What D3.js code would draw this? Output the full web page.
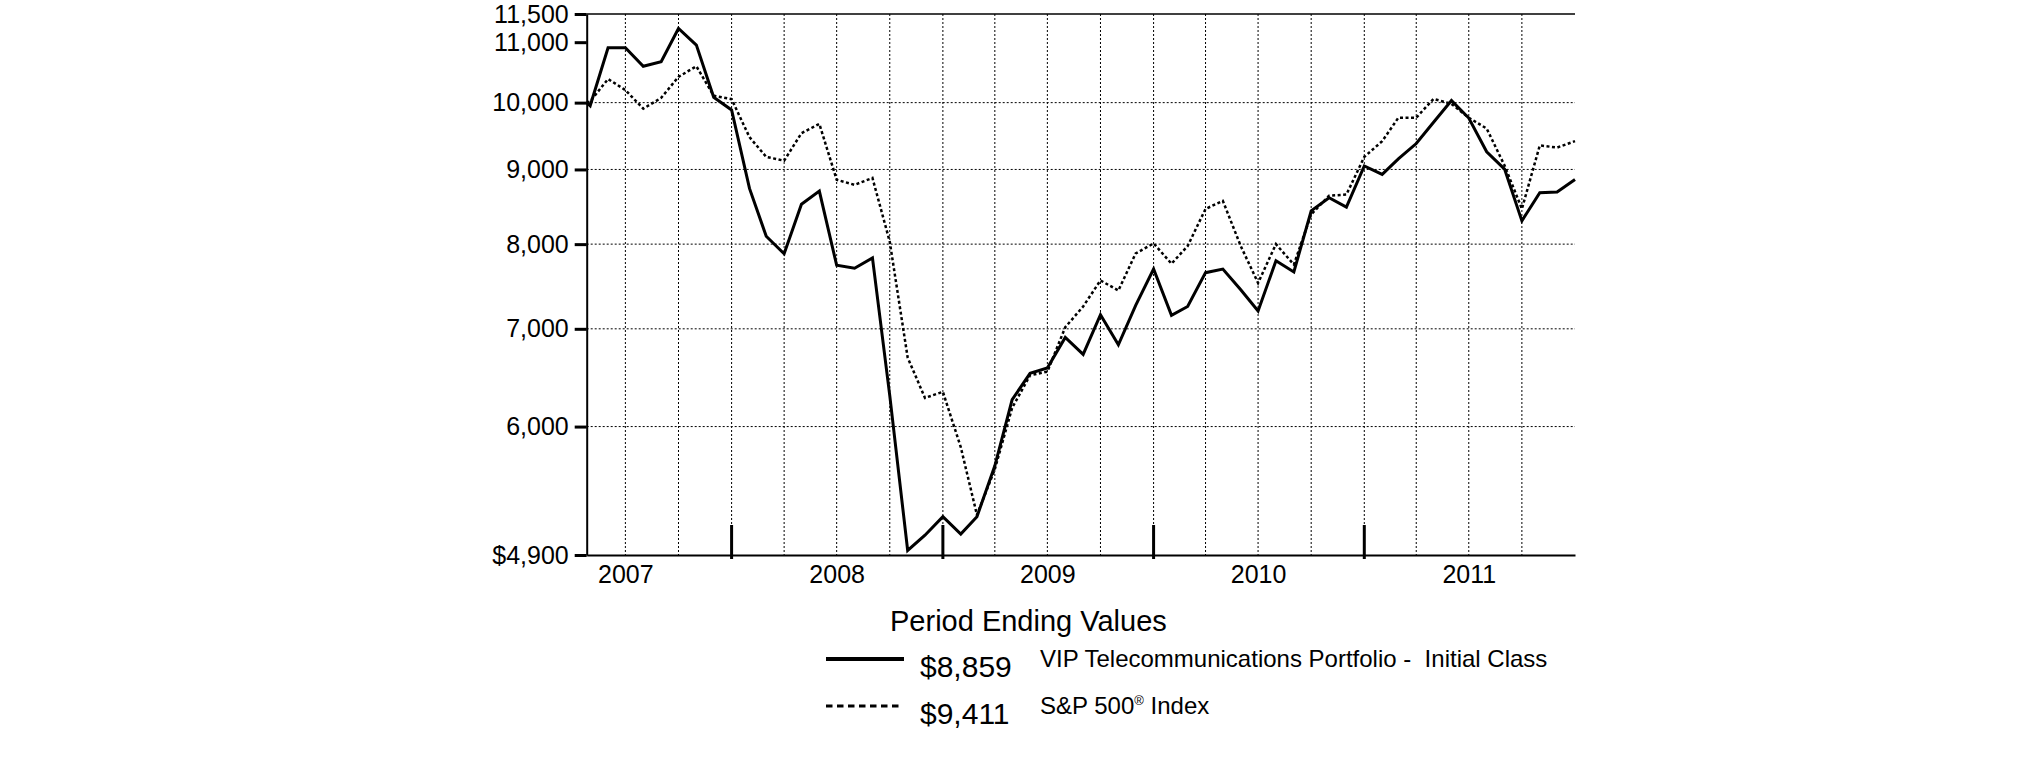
<!DOCTYPE html>
<html>
<head>
<meta charset="utf-8">
<script src="https://cdn.jsdelivr.net/npm/d3@7"></script>
<style>
  body { margin: 0; background: #fff; }
  text { font-family: "Liberation Sans", Arial, Helvetica, sans-serif; fill: #000; }
</style>
</head>
<body>
<svg id="chart" width="2025" height="761"></svg>
<script>
// ---------------- DATA ----------------
const dates = [
  "2007-04-24",
  "2007-04-30","2007-05-31","2007-06-30","2007-07-31","2007-08-31","2007-09-30","2007-10-31","2007-11-30","2007-12-31",
  "2008-01-31","2008-02-29","2008-03-31","2008-04-30","2008-05-31","2008-06-30","2008-07-31","2008-08-31","2008-09-30","2008-10-31","2008-11-30","2008-12-31",
  "2009-01-31","2009-02-28","2009-03-31","2009-04-30","2009-05-31","2009-06-30","2009-07-31","2009-08-31","2009-09-30","2009-10-31","2009-11-30","2009-12-31",
  "2010-01-31","2010-02-28","2010-03-31","2010-04-30","2010-05-31","2010-06-30","2010-07-31","2010-08-31","2010-09-30","2010-10-31","2010-11-30","2010-12-31",
  "2011-01-31","2011-02-28","2011-03-31","2011-04-30","2011-05-31","2011-06-30","2011-07-31","2011-08-31","2011-09-30","2011-10-31","2011-11-30","2011-12-31"
];
const telecom = [
  10000,
  9950, 10905, 10905, 10590, 10665, 11240, 10950, 10085, 9886,
  8735, 8100, 7880, 8520, 8697, 7738, 7701, 7828, 6300, 4935, 5055, 5205,
  5065, 5205, 5640, 6260, 6525, 6580, 6905, 6723, 7158, 6826, 7264, 7692,
  7150, 7251, 7648, 7692, 7445, 7200, 7793, 7657, 8432, 8607, 8481, 9050,
  8930, 9150, 9375, 9695, 10032, 9760, 9255, 9005, 8299, 8675, 8685, 8859
];
const sp500 = [
  10000,
  10020, 10380, 10200, 9905, 10075, 10415, 10590, 10110, 10055,
  9470, 9180, 9125, 9530, 9670, 8855, 8784, 8880, 8030, 6690, 6277, 6338,
  5808, 5220, 5610, 6180, 6505, 6543, 7017, 7251, 7555, 7436, 7883, 8009,
  7757, 7976, 8457, 8565, 7976, 7524, 8000, 7746, 8384, 8635, 8650, 9180,
  9410, 9765, 9765, 10060, 9980, 9765, 9600, 9055, 8457, 9347, 9316, 9411
];
const yTicks = [4900, 6000, 7000, 8000, 9000, 10000, 11000, 11500];
const yGridValues = [6000, 7000, 8000, 9000, 10000];
const yearLabels = ["2007", "2008", "2009", "2010", "2011"];
const yearEndTicks = ["2007-12-31", "2008-12-31", "2009-12-31", "2010-12-31"];
const legendTitle = "Period Ending Values";
const seriesNames = ["VIP Telecommunications Portfolio -  Initial Class", "S&P 500® Index"];
const endValues = ["$8,859", "$9,411"];

// ---------------- LAYOUT ----------------
const parse = d3.timeParse("%Y-%m-%d");
const L = 586.7, R = 1575, T = 14, B = 555;
const svg = d3.select("#chart");
svg.append("rect").attr("width", 2025).attr("height", 761).attr("fill", "#fff");

const dt = dates.map(parse);
const x = d3.scaleTime().domain([dt[0], dt[dt.length - 1]]).range([L, R]);
const y = d3.scaleLog().domain([4900, 11500]).range([B, T]);

// horizontal dotted grid
svg.append("g").selectAll("line").data(yGridValues).join("line")
  .attr("x1", L).attr("x2", R)
  .attr("y1", d => y(d)).attr("y2", d => y(d))
  .attr("stroke", "#000").attr("stroke-width", 1).attr("stroke-dasharray", "2,2");

// vertical dotted grid (quarter ends)
const quarterDates = dt.filter((d, i) => i > 0 && d.getMonth() % 3 === 2 && i < dt.length - 1);
svg.append("g").selectAll("line").data(quarterDates).join("line")
  .attr("x1", d => x(d)).attr("x2", d => x(d))
  .attr("y1", T).attr("y2", B)
  .attr("stroke", "#000").attr("stroke-width", 1).attr("stroke-dasharray", "2,2");

// top frame line
svg.append("line").attr("x1", L).attr("x2", R).attr("y1", y(11500)).attr("y2", y(11500))
  .attr("stroke", "#000").attr("stroke-width", 1.5);

// y axis
const fmt = d3.format(",");
const yAxis = d3.axisLeft(y).tickValues(yTicks)
  .tickFormat(d => (d === 4900 ? "$" : "") + fmt(d))
  .tickSize(12).tickSizeOuter(0).tickPadding(6);
const gy = svg.append("g").attr("transform", `translate(${L},0)`).call(yAxis);
gy.select(".domain").attr("stroke", "#000").attr("stroke-width", 2);
gy.selectAll(".tick line").attr("stroke", "#000").attr("stroke-width", 3);
gy.selectAll(".tick text").attr("font-size", 25).attr("fill", "#000")
  .style("font-family", '"Liberation Sans", Arial, sans-serif');

// x axis (year labels centred mid-year)
const xAxis = d3.axisBottom(x)
  .tickValues(yearLabels.map(yr => parse(yr + "-06-30")))
  .tickFormat(d3.timeFormat("%Y"))
  .tickSize(0).tickSizeOuter(0).tickPadding(10);
const gx = svg.append("g").attr("transform", `translate(0,${B})`).call(xAxis);
gx.select(".domain").attr("stroke", "#000").attr("stroke-width", 2);
gx.selectAll(".tick text").attr("font-size", 25).attr("fill", "#000")
  .style("font-family", '"Liberation Sans", Arial, sans-serif');

// tall year-end ticks
svg.append("g").selectAll("line").data(yearEndTicks.map(parse)).join("line")
  .attr("x1", d => x(d)).attr("x2", d => x(d))
  .attr("y1", B - 30).attr("y2", B + 4)
  .attr("stroke", "#000").attr("stroke-width", 3);

// series lines
const line = d3.line().x(d => x(d.date)).y(d => y(d.v));
const spData = dt.map((d, i) => ({ date: d, v: sp500[i] }));
const tcData = dt.map((d, i) => ({ date: d, v: telecom[i] }));
svg.append("path").datum(spData).attr("d", line)
  .attr("fill", "none").attr("stroke", "#000").attr("stroke-width", 2.5)
  .attr("stroke-dasharray", "3,2.5");
svg.append("path").datum(tcData).attr("d", line)
  .attr("fill", "none").attr("stroke", "#000").attr("stroke-width", 3)
  .attr("stroke-linejoin", "miter");

// ---------------- LEGEND ----------------
const lg = svg.append("g");
lg.append("text").attr("x", 890).attr("y", 631).attr("font-size", 29).text(legendTitle);

const rows = [
  { sample: { y: 659, dash: null, w: 4 }, valY: 677, nameY: 667 },
  { sample: { y: 706, dash: "6.5,4.5", w: 3 }, valY: 724, nameY: 714 }
];
rows.forEach((r, i) => {
  const ln = lg.append("line").attr("x1", 826).attr("x2", i === 0 ? 904 : 902)
    .attr("y1", r.sample.y).attr("y2", r.sample.y)
    .attr("stroke", "#000").attr("stroke-width", r.sample.w);
  if (r.sample.dash) ln.attr("stroke-dasharray", r.sample.dash);
  lg.append("text").attr("x", 920).attr("y", r.valY).attr("font-size", 30).text(endValues[i]);
  const t = lg.append("text").attr("x", 1040).attr("y", r.nameY).attr("font-size", 24)
    .style("white-space", "pre");
  const parts = seriesNames[i].split("®");
  t.append("tspan").text(parts[0]);
  if (parts.length > 1) {
    t.append("tspan").attr("font-size", 13).attr("dy", -9).text("®");
    t.append("tspan").attr("dy", 9).text(parts[1]);
  }
});
</script>
</body>
</html>
